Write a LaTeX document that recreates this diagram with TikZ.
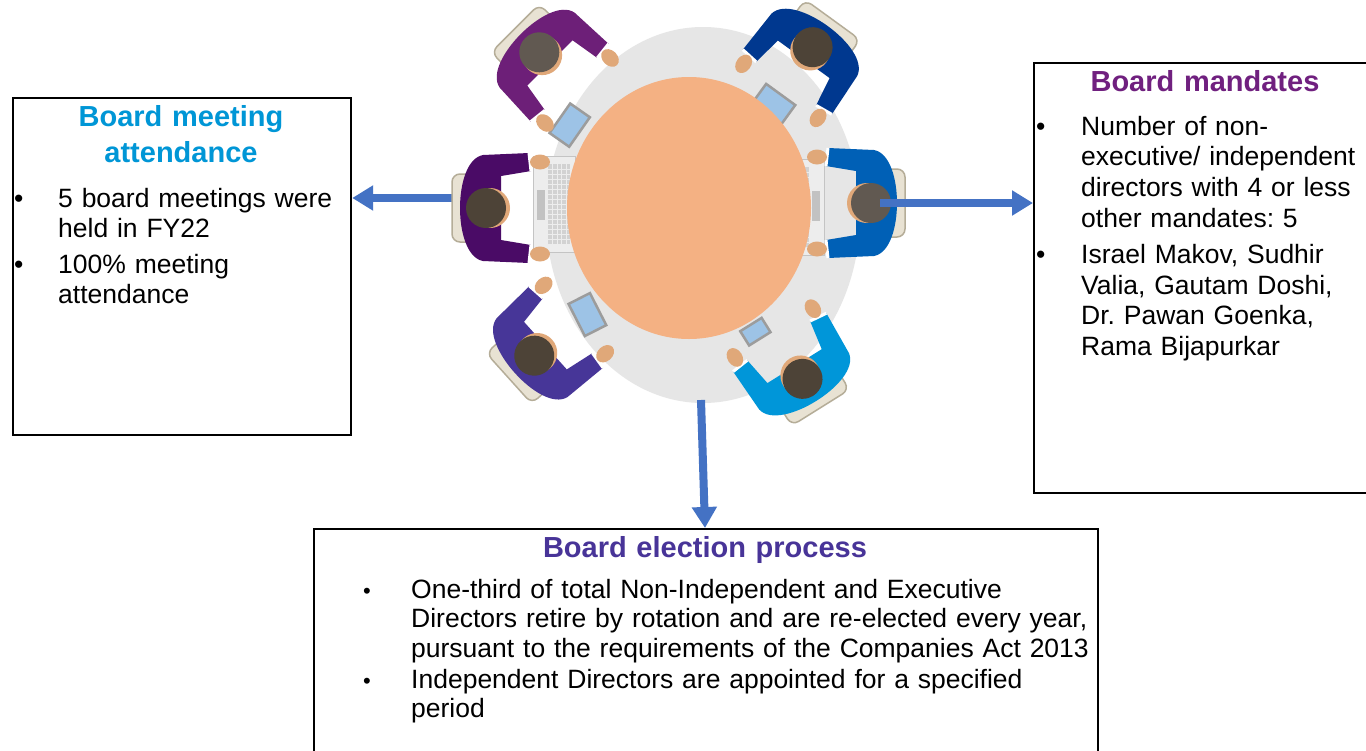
\documentclass[tikz,border=0pt]{standalone}
\usepackage{fontspec}
\setmainfont{Liberation Sans}
\frenchspacing
\usetikzlibrary{arrows.meta}
\definecolor{tablegray}{HTML}{E6E6E6}
\definecolor{tableorange}{HTML}{F4B183}
\definecolor{chairfill}{HTML}{E8E2D3}
\definecolor{chairline}{HTML}{B5AD98}
\definecolor{skin}{HTML}{E0A879}
\definecolor{headdark}{HTML}{4D4337}
\definecolor{headgray}{HTML}{615951}
\definecolor{arrowblue}{HTML}{4472C4}
\definecolor{sTL}{HTML}{6D1F78}
\definecolor{sTR}{HTML}{00388F}
\definecolor{sL}{HTML}{4A0B66}
\definecolor{sR}{HTML}{0060B6}
\definecolor{sBL}{HTML}{473698}
\definecolor{sBR}{HTML}{0096D9}
\definecolor{tLeft}{HTML}{0096D6}
\definecolor{tRight}{HTML}{70207F}
\definecolor{tBottom}{HTML}{483498}
\definecolor{laptopfill}{HTML}{EDEDED}
\definecolor{laptopline}{HTML}{C4C4C4}
\definecolor{keyfill}{HTML}{D2D2D2}
\definecolor{padfill}{HTML}{C2C2C2}
\definecolor{tabletfill}{HTML}{9DC3E6}
\definecolor{tabletline}{HTML}{9C9C9C}
\newcommand\personfig[2]{%
  \filldraw[fill=chairfill, draw=chairline, line width=1.5pt, rounded corners=8pt] (-35,-34) rectangle (12,34);
  \fill[#1] (-4,-53) .. controls (-20,-50) and (-27,-24) .. (-27,0) .. controls (-27,24) and (-20,50) .. (-4,53) -- (42,55) -- (44,37) -- (14,32) -- (14,-32) -- (44,-37) -- (42,-55) -- cycle;
  \draw[white, line width=3pt] (42,-55) -- (44,-37) (42,55) -- (44,37);
  \fill[skin] (53,-46) ellipse [x radius=10, y radius=7.5];
  \fill[skin] (53,46) ellipse [x radius=10, y radius=7.5];
  \fill[skin] (3,0) circle (20);
  \fill[#2] (-1,0) circle (20);
}
\newcommand\laptopfig{%
  \filldraw[fill=laptopfill, draw=laptopline, line width=1pt] (46,-52) rectangle (88,44);
  \fill[padfill] (50,-18) rectangle (58,12);
  \fill[keyfill] (61,-44) rectangle (83,36);
  \foreach \k in {-39,-34,...,31} \draw[laptopfill, line width=1pt] (61,\k) -- (83,\k);
  \foreach \k in {65.5,70,74.5,79} \draw[laptopfill, line width=1pt] (\k,-44) -- (\k,36);
}
\newcommand\tabletfig{%
  \filldraw[fill=tabletfill, draw=tabletline, line width=2.5pt] (-12,-18) rectangle (12,18);
}
\begin{document}
\begin{tikzpicture}[x=1pt,y=-1pt,
  box/.style={draw=black, line width=2.2pt, inner sep=0pt, anchor=north west},
  arr/.style={draw=arrowblue, line width=8pt, -{Triangle[width=24pt,length=21pt]}},
  titletext/.style={anchor=base, inner sep=0pt, align=center, text width=#1, font=\fontsize{29}{36}\selectfont\bfseries},
  bodytext/.style={anchor=base west, inner sep=0pt, align=left, text width=#1, font=\fontsize{26.5}{30}\selectfont},
  bul/.style={anchor=base west, inner sep=0pt, font=\fontsize{26.5}{30}\selectfont}
]
\useasboundingbox (0,0) rectangle (1366,750);
\fill[white] (0,0) rectangle (1366,750);

% table
\fill[tablegray] (703,215) ellipse [x radius=157, y radius=188];

% boxes
\node[box, minimum width=338pt, minimum height=337pt] (lbox) at (12,97) {};
\node[box, minimum width=360pt, minimum height=430pt] (rbox) at (1033,62) {};
\node[box, minimum width=784pt, minimum height=240pt] (bbox) at (313,528) {};

% arrows behind the people
\coordinate (hL) at (470,198);
\coordinate (tB) at (701,400);
\draw[arr] (hL) -- (hL -| lbox.east);
\draw[arr] (tB) -- ([xshift=4pt]tB |- bbox.north);

% people
\begin{scope}[shift={(487,208)}]
  \laptopfig
  \personfig{sL}{headdark}
\end{scope}
\begin{scope}[shift={(870,203)},rotate=180]
  \laptopfig
  \personfig{sR}{headgray}
\end{scope}
\begin{scope}[shift={(540,53)},rotate=-45]
  \begin{scope}[shift={(72,30)},rotate=10]\tabletfig\end{scope}
  \personfig{sTL}{headgray}
\end{scope}
\begin{scope}[shift={(812,48)},rotate=-126]
  \begin{scope}[shift={(68,-2)}]\tabletfig\end{scope}
  \personfig{sTR}{headdark}
\end{scope}
\begin{scope}[shift={(535,355)},rotate=42]
  \begin{scope}[shift={(66,5)},rotate=-15]\tabletfig\end{scope}
  \personfig{sBL}{headdark}
\end{scope}
\begin{scope}[shift={(802,378)},rotate=122]
  \begin{scope}[shift={(64,-15)},scale=0.7]\tabletfig\end{scope}
  \personfig{sBR}{headdark}
\end{scope}

% table top
\fill[tableorange] (689,208) ellipse [x radius=122, y radius=131];

% right arrow on top
\coordinate (hR) at (880,203);
\draw[arr] (hR) -- (hR -| rbox.west);

% left box text
\node[titletext=330pt, text=tLeft] (lt) at (181,126.7) {Board meeting\\attendance};
\node[bul] (lb1) at (14,207) {•};
\node[bodytext=290pt] (lx1) at (58,207) {5 board meetings were\\held in FY22};
\node[bul] (lb2) at (14,273) {•};
\node[bodytext=290pt] (lx2) at (58,273) {100\% meeting\\attendance};

% right box text
\node[titletext=330pt, text=tRight] (rt) at (1205,91) {Board mandates};
\node[bul] (rb1) at (1036,135) {•};
\node[bodytext=300pt, font=\fontsize{26.5}{30.7}\selectfont] (rx1) at (1081,135) {Number of non-\\executive/ independent\\directors with 4 or less\\other mandates: 5};
\node[bul] (rb2) at (1036,263.3) {•};
\node[bodytext=300pt, font=\fontsize{26.5}{30.7}\selectfont] (rx2) at (1081,263.3) {Israel Makov, Sudhir\\Valia, Gautam Doshi,\\Dr. Pawan Goenka,\\Rama Bijapurkar};

% bottom box text
\node[titletext=700pt, text=tBottom] (bt) at (705,557) {Board election process};
\node[bul, font=\fontsize{22}{30}\selectfont] (bb1) at (363,598) {•};
\node[bodytext=690pt, font=\fontsize{26.5}{29.5}\selectfont] (bx1) at (411,598) {One-third of total Non-Independent and Executive\\Directors retire by rotation and are re-elected every year,\\pursuant to the requirements of the Companies Act 2013};
\node[bul, font=\fontsize{22}{30}\selectfont] (bb2) at (363,688) {•};
\node[bodytext=690pt, font=\fontsize{26.5}{29.5}\selectfont] (bx2) at (411,688) {Independent Directors are appointed for a specified\\period};
\end{tikzpicture}
\end{document}
